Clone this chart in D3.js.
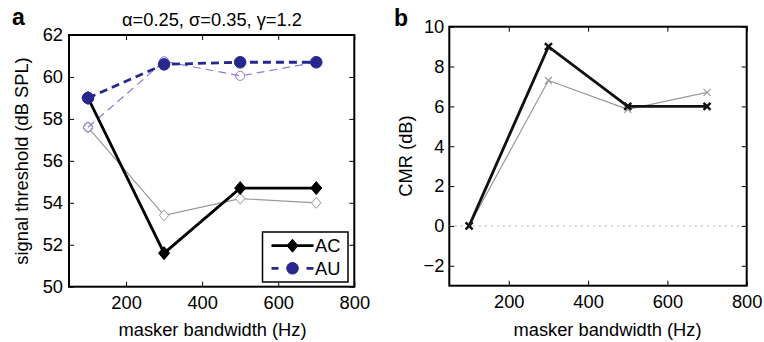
<!DOCTYPE html>
<html>
<head>
<meta charset="utf-8">
<script src="https://cdn.jsdelivr.net/npm/d3@7"></script>
<style>
  body { margin: 0; background: #fff; }
  svg { display: block; font-family: "Liberation Sans", Arial, Helvetica, sans-serif; }
</style>
</head>
<body>
<svg id="chart" width="764" height="342"></svg>
<script>
// ---- data ----
const bandwidths = [100, 300, 500, 700];
// panel a: signal threshold (dB SPL)
const acThick = [59.0, 51.6, 54.7, 54.7];
const auThick = [59.0, 60.6, 60.7, 60.7];
const acThin  = [57.6, 53.4, 54.2, 54.0];
const auThin  = [57.6, 60.75, 60.05, 60.7];
// panel b: CMR (dB)
const cmrThick = [0, 9.0, 6.0, 6.0];
const cmrThin  = [0, 7.3, 5.85, 6.7];
const xTicks = [200, 400, 600, 800];
const yTicksA = [50, 52, 54, 56, 58, 60, 62];
const yTicksB = [-2, 0, 2, 4, 6, 8, 10];
const titleA = "\u03b1=0.25, \u03c3=0.35, \u03b3=1.2";
const legendNames = ["AC", "AU"];

const svg = d3.select("#chart");
const FS = 18.3;
const darkBlue = "#27278f", lightBlue = "#8a7ddb", gray = "#999999";

// ---- scales ----
const xA = d3.scaleLinear().domain([50, 800]).range([69, 354.3]);
const yA = d3.scaleLinear().domain([50, 62]).range([286.7, 35]);
const xB = d3.scaleLinear().domain([50, 800]).range([449.3, 746.7]);
const yB = d3.scaleLinear().domain([-3, 10]).range([285.7, 26.7]);

function fmt(d) { return d < 0 ? "\u2212" + Math.abs(d) : String(d); }

function drawAxes(x, y, yTicks, padLeft) {
  const [x0, x1] = x.range(), [y0, y1] = y.range();
  const g = svg.append("g");
  g.append("g").attr("transform", `translate(0,${y0})`)
    .call(d3.axisBottom(x).tickValues(xTicks).tickSize(-5).tickPadding(9).tickFormat(fmt))
    .call(a => { a.select(".domain").remove(); a.selectAll("text").attr("font-size", FS).attr("fill", "#000").attr("font-family", null); });
  g.append("g").attr("transform", `translate(0,${y1})`)
    .call(d3.axisTop(x).tickValues(xTicks).tickSize(-5).tickFormat(""))
    .call(a => a.select(".domain").remove());
  g.append("g").attr("transform", `translate(${x0},0)`)
    .call(d3.axisLeft(y).tickValues(yTicks).tickSize(-5).tickPadding(padLeft).tickFormat(fmt))
    .call(a => { a.select(".domain").remove(); a.selectAll("text").attr("font-size", FS).attr("fill", "#000").attr("font-family", null); });
  g.append("g").attr("transform", `translate(${x1},0)`)
    .call(d3.axisRight(y).tickValues(yTicks).tickSize(-5).tickFormat(""))
    .call(a => a.select(".domain").remove());
  g.selectAll(".tick line").attr("stroke", "#000").attr("stroke-width", 1);
  svg.append("rect").attr("x", x0).attr("y", y1).attr("width", x1 - x0).attr("height", y0 - y1)
    .attr("fill", "none").attr("stroke", "#000").attr("stroke-width", 2);
}

function series(x, y, vals, opts) {
  const line = d3.line().x((d, i) => x(bandwidths[i])).y(d => y(d));
  svg.append("path").datum(vals).attr("d", line)
    .attr("fill", "none").attr("stroke", opts.color).attr("stroke-width", opts.width)
    .attr("stroke-dasharray", opts.dash || null).attr("stroke-linejoin", "miter");
  const pts = svg.append("g");
  vals.forEach((v, i) => drawMarker(pts, opts.marker, x(bandwidths[i]), y(v), opts));
}

function drawMarker(g, type, cx, cy, opts) {
  const s = opts.size;
  if (type === "diamond") {
    g.append("path").attr("d", `M${cx},${cy - s}L${cx + s * 0.85},${cy}L${cx},${cy + s}L${cx - s * 0.85},${cy}Z`)
      .attr("fill", opts.filled ? opts.color : "#fff").attr("stroke", opts.color).attr("stroke-width", 1);
  } else if (type === "circle") {
    g.append("circle").attr("cx", cx).attr("cy", cy).attr("r", s)
      .attr("fill", opts.filled ? opts.color : "none").attr("stroke", opts.color).attr("stroke-width", 1);
  } else if (type === "x") {
    g.append("path").attr("d", `M${cx - s},${cy - s}L${cx + s},${cy + s}M${cx - s},${cy + s}L${cx + s},${cy - s}`)
      .attr("stroke", opts.color).attr("stroke-width", opts.mw || 1);
  }
}

// ---- panel a ----
drawAxes(xA, yA, yTicksA, 6);
series(xA, yA, acThin, { color: gray, width: 1.2, marker: "diamond", size: 5.5, filled: false });
series(xA, yA, auThin, { color: lightBlue, width: 1.2, dash: "8,5", marker: "circle", size: 4.5, filled: false });
series(xA, yA, acThick, { color: "#000", width: 2.8, marker: "diamond", size: 6.5, filled: true });
series(xA, yA, auThick, { color: darkBlue, width: 2.8, dash: "8,5", marker: "circle", size: 5.8, filled: true });

// legend
const lg = svg.append("g");
lg.append("rect").attr("x", 262.5).attr("y", 232).attr("width", 85.5).attr("height", 50)
  .attr("fill", "#fff").attr("stroke", "#000").attr("stroke-width", 1.5);
const legendRows = [
  { name: legendNames[0], y: 245.7, color: "#000", dash: null, marker: "diamond", size: 6.5 },
  { name: legendNames[1], y: 268.3, color: darkBlue, dash: "7,28", marker: "circle", size: 5.8 }
];
legendRows.forEach(r => {
  lg.append("line").attr("x1", 271.5).attr("x2", 313.5).attr("y1", r.y).attr("y2", r.y)
    .attr("stroke", r.color).attr("stroke-width", 2.8).attr("stroke-dasharray", r.dash);
  drawMarker(lg, r.marker, 292.5, r.y, { color: r.color, size: r.size, filled: true });
  lg.append("text").attr("x", 315).attr("y", r.y + 6.6).attr("font-size", FS).text(r.name);
});

// title and labels
svg.append("text").attr("x", 212).attr("y", 26).attr("text-anchor", "middle").attr("font-size", FS).text(titleA);
svg.append("text").attr("x", 212.5).attr("y", 336).attr("text-anchor", "middle").attr("font-size", FS).text("masker bandwidth (Hz)");
svg.append("text").attr("transform", "translate(28,161) rotate(-90)").attr("text-anchor", "middle").attr("font-size", FS).text("signal threshold (dB SPL)");
svg.append("text").attr("x", 12).attr("y", 25).attr("font-size", 23).attr("font-weight", "bold").text("a");

// ---- panel b ----
drawAxes(xB, yB, yTicksB, 5);
svg.append("line").attr("x1", xB(50)).attr("x2", xB(800)).attr("y1", yB(0)).attr("y2", yB(0))
  .attr("stroke", "#888").attr("stroke-width", 1).attr("stroke-dasharray", "1.2,4.8");
series(xB, yB, cmrThin, { color: gray, width: 1.2, marker: "x", size: 3.5, mw: 1.2 });
series(xB, yB, cmrThick, { color: "#111", width: 2.8, marker: "x", size: 3.5, mw: 2.5 });
svg.append("text").attr("x", 607.5).attr("y", 336).attr("text-anchor", "middle").attr("font-size", FS).text("masker bandwidth (Hz)");
svg.append("text").attr("transform", "translate(411.5,156) rotate(-90)").attr("text-anchor", "middle").attr("font-size", FS).text("CMR (dB)");
svg.append("text").attr("x", 394).attr("y", 26).attr("font-size", 23).attr("font-weight", "bold").text("b");
</script>
</body>
</html>
